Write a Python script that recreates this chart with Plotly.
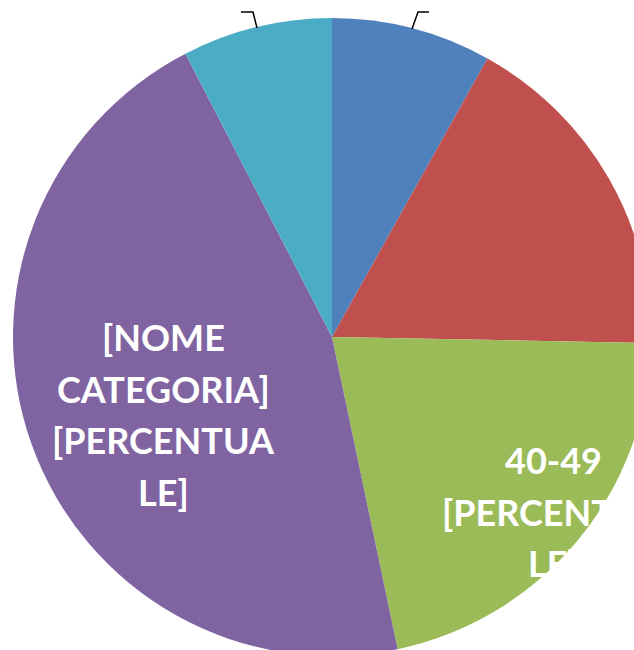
import plotly.graph_objects as go

categories = ["20-29", "30-39", "40-49", "[NOME CATEGORIA]", "60+"]
values = [8.1, 17.2, 21.4, 45.7, 7.6]
colors = ["#4F81BD", "#C0504D", "#9BBB59", "#8064A2", "#4BACC6"]

purple_lines = ["[NOME", "CATEGORIA]", "[PERCENTUA", "LE]"]
green_lines = ["40-49", "[PERCENTUA", "LE]"]

W, H = 700, 700
OX, OY = 0, 0  # page offset (body margin removed)


def px(x):
    return (x - OX) / W


def py(y):
    return 1 - (y - OY) / H


cx, cy, r = 332, 337, 319

fig = go.Figure(go.Pie(
    labels=categories, values=values, sort=False, direction="clockwise",
    rotation=0, marker=dict(colors=colors), textinfo="none",
    hoverinfo="skip", showlegend=False,
    domain=dict(x=[px(cx - r), px(cx + r)], y=[py(cy + r), py(cy - r)]),
))

ann = []
font = dict(family="Lato", size=36, color="white")
for i, t in enumerate(purple_lines):
    ann.append(dict(x=px(163), y=py(337 + i * 51.7), xref="paper", yref="paper",
                    text="<b>%s</b>" % t, showarrow=False, font=font,
                    xanchor="center", yanchor="middle"))
for i, t in enumerate(green_lines):
    ann.append(dict(x=px(553), y=py(460 + i * 51.7), xref="paper", yref="paper",
                    text="<b>%s</b>" % t, showarrow=False, font=font,
                    xanchor="center", yanchor="middle"))

shapes = []
for pts in [[(241, 12), (253, 12), (257, 28)], [(429, 12), (418, 12), (412, 29)]]:
    path = "M %f %f" % (px(pts[0][0]), py(pts[0][1]))
    for p in pts[1:]:
        path += " L %f %f" % (px(p[0]), py(p[1]))
    shapes.append(dict(type="path", path=path, xref="paper", yref="paper",
                       line=dict(color="black", width=1.5)))

fig.update_layout(width=W, height=H, margin=dict(l=0, r=0, t=0, b=0),
                  paper_bgcolor="white", plot_bgcolor="white",
                  annotations=ann, shapes=shapes)
fig.write_html(
    "out.html",
    post_script=("document.body.style.margin='0';"
                 "document.body.style.overflow='hidden';"
                 "document.documentElement.style.overflow='hidden';"),
)
